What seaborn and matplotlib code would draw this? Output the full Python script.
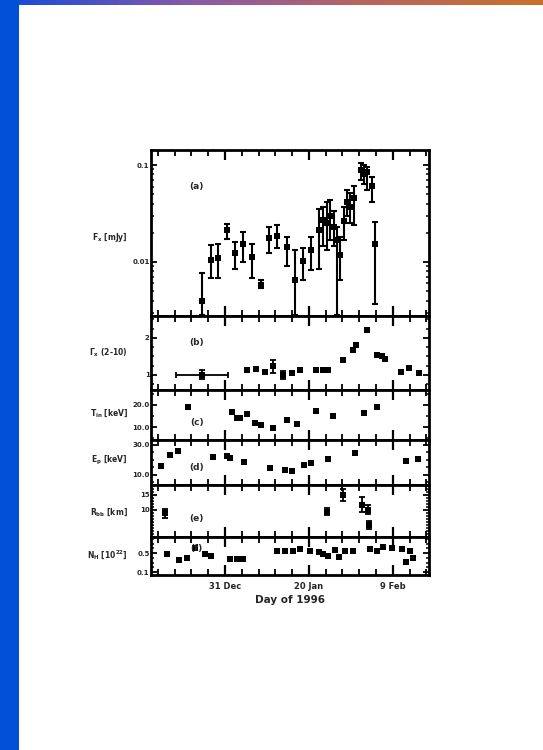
import numpy as np
import pandas as pd
import matplotlib
matplotlib.use("Agg")
import matplotlib.pyplot as plt
import seaborn as sns
from matplotlib.ticker import FixedLocator, MultipleLocator, NullFormatter

# ---------------- data (day 0 = 31 Dec) ----------------
flux_day = [-5.4, -3.4, -1.6, 0.4, 2.4, 4.4, 6.5, 8.6, 10.5, 12.5, 14.7, 16.7, 18.6,
            20.6, 22.5, 23.3, 24.3, 25.1, 25.9, 26.7, 27.4, 28.3, 29.1, 29.9, 30.8,
            32.3, 33.1, 33.9, 35.1, 35.7]
flux_log = [-2.40, -1.98, -1.96, -1.67, -1.91, -1.81, -1.95, -2.24, -1.75, -1.73, -1.85,
            -2.19, -1.99, -1.88, -1.67, -1.57, -1.60, -1.53, -1.64, -1.77, -1.93, -1.58,
            -1.38, -1.43, -1.34, -1.05, -1.09, -1.07, -1.22, -1.81]
flux_log_hi = [-2.11, -1.82, -1.81, -1.61, -1.79, -1.69, -1.81, -2.19, -1.64, -1.62, -1.74,
               -1.88, -1.86, -1.74, -1.45, -1.43, -1.38, -1.36, -1.47, -1.64, -1.74, -1.43,
               -1.26, -1.29, -1.22, -0.98, -1.00, -1.02, -1.12, -1.59]
flux_log_lo = [-2.55, -2.17, -2.17, -1.76, -2.07, -2.00, -2.17, -2.27, -1.91, -1.86, -2.04,
               -2.55, -2.19, -2.08, -2.07, -1.84, -1.88, -1.77, -1.84, -2.55, -2.19, -1.77,
               -1.53, -1.60, -1.62, -1.15, -1.20, -1.26, -1.38, -2.43]

gamma_day = [-5.5, 5.2, 7.5, 9.5, 11.5, 13.9, 15.9, 17.9, 21.8, 23.4, 24.6, 28.1, 30.5,
             31.3, 33.9, 36.1, 37.3, 38.1, 41.9, 43.9, 46.3]
gamma_val = [1.00, 1.14, 1.15, 1.09, 1.23, 1.00, 1.05, 1.14, 1.14, 1.14, 1.14, 1.41, 1.68,
             1.81, 2.22, 1.54, 1.50, 1.43, 1.09, 1.18, 1.05]
gamma_err = [0.12, 0.04, 0.04, 0.04, 0.18, 0.10, 0.05, 0.04, 0.04, 0.03, 0.03, 0.05, 0.05,
             0.05, 0.04, 0.05, 0.05, 0.05, 0.05, 0.05, 0.05]
gamma_xerr = [6.2, 0, 0, 0, 0, 0, 0, 0, 0, 0, 0, 0, 0, 0, 0, 0, 0, 0, 0, 0, 0]

temp_day = [-8.7, 1.6, 2.8, 3.6, 5.2, 7.1, 8.7, 11.4, 14.8, 17.2, 21.7, 25.8, 33.2, 36.1]
temp_val = [19.2, 17.0, 14.0, 14.0, 15.9, 11.7, 10.9, 9.4, 13.2, 11.4, 17.4, 15.0, 16.2, 19.0]

ep_day = [-15.1, -13.1, -11.1, -2.8, 0.4, 1.2, 4.5, 10.7, 14.3, 15.9, 18.8, 20.6, 24.6,
          31.0, 43.1, 46.0]
ep_val = [16.0, 23.3, 26.2, 21.8, 22.7, 21.1, 18.9, 14.4, 13.3, 12.9, 16.7, 18.2, 20.4,
          24.9, 19.6, 20.4]

rad_day = [-14.3, 24.2, 28.2, 32.6, 34.0, 34.2]
rad_val = [8.9, 9.4, 15.0, 11.7, 10.0, 5.0]
rad_err = [1.5, 1.2, 2.0, 2.5, 1.5, 1.2]

nh_day = [-13.7, -10.9, -9.0, -7.1, -4.8, -3.2, 1.2, 2.8, 4.4, 12.3, 14.3, 16.2, 17.8,
          20.2, 22.4, 23.3, 24.6, 26.2, 27.2, 28.6, 30.5, 34.5, 36.1, 37.7, 39.7, 42.1,
          44.0, 43.2, 44.8]
nh_val = [0.49, 0.35, 0.39, 0.60, 0.49, 0.45, 0.37, 0.37, 0.37, 0.55, 0.55, 0.55, 0.58,
          0.55, 0.52, 0.48, 0.44, 0.56, 0.41, 0.55, 0.55, 0.58, 0.55, 0.62, 0.60, 0.58,
          0.55, 0.32, 0.39]

x_tick_days = [0, 20, 40]
x_tick_labels = ["31 Dec", "20 Jan", "9 Feb"]
panel_tags = ["(a)", "(b)", "(c)", "(d)", "(e)", "(f)"]
y_titles = [r"$F_x$ [mJy]", r"$\Gamma_x$ (2-10)", r"$T_{in}$ [keV]",
            r"$E_p$ [keV]", r"$R_{bb}$ [km]", r"$N_H$ [$10^{22}$]"]

# ---------------- figure ----------------
sns.set_style("ticks")
plt.rcParams["font.family"] = ["DejaVu Sans"]
plt.rcParams["font.weight"] = "bold"
plt.rcParams["mathtext.default"] = "bf"

W, H = 543, 750
fig = plt.figure(figsize=(W / 100, H / 100), dpi=100)
fig.patch.set_facecolor("white")

# slide decoration: left bar and gradient strip
bar_ax = fig.add_axes([0, 0, 19 / W, 1])
bar_ax.set_facecolor("#0350d8")
bar_ax.set_xticks([]); bar_ax.set_yticks([])
for s in bar_ax.spines.values():
    s.set_visible(False)
grad_ax = fig.add_axes([19 / W, 1 - 5 / H, 1 - 19 / W, 5 / H])
cmap = matplotlib.colors.LinearSegmentedColormap.from_list(
    "strip", ["#1a4cd6", "#8a5aa8", "#b8665e", "#c8702c"])
grad_ax.imshow(np.linspace(0, 1, 256)[None, :], aspect="auto", cmap=cmap)
grad_ax.axis("off")

# panel boxes in pixel rows (top, bottom)
rows = [(150, 316), (316, 390), (390, 440), (440, 485), (485, 537), (537, 575)]
left_px, right_px = 151, 429
label_rows = [237, 353, 413, 460, 512, 555]
tag_rows = [187, 342, 423, 468, 518, 548]

axes = []
for (t, b) in rows:
    ax = fig.add_axes([left_px / W, 1 - b / H, (right_px - left_px) / W, (b - t) / H])
    axes.append(ax)

xmin, xmax = -17.6, 48.6
EW = 1.5      # error bar width
MS = 20       # marker area

def style(ax, i):
    ax.set_xlim(xmin, xmax)
    ax.xaxis.set_major_locator(FixedLocator(x_tick_days))
    ax.xaxis.set_minor_locator(MultipleLocator(4))
    ax.tick_params(axis="both", which="both", direction="in", top=True, right=True,
                   color="black", labelsize=5)
    ax.tick_params(axis="x", which="major", length=7, width=1.6)
    ax.tick_params(axis="x", which="minor", length=4, width=1.3)
    ax.tick_params(axis="y", which="major", length=4, width=1.3, pad=1)
    ax.tick_params(axis="y", which="minor", length=2, width=1.1)
    for s in ax.spines.values():
        s.set_linewidth(2.0)
        s.set_color("black")
    if i < 5:
        ax.set_xticklabels([])
    ax.set_xlabel("")
    t, b = rows[i]
    ax.set_ylabel(y_titles[i], rotation=0, ha="right", va="center",
                  fontsize=5.5, fontweight="bold")
    ax.yaxis.set_label_coords((128 - left_px) / (right_px - left_px),
                              (b - label_rows[i]) / (b - t))
    ax.text(0.165, (b - tag_rows[i]) / (b - t), panel_tags[i], transform=ax.transAxes,
            fontsize=6.5, fontweight="bold", ha="center", va="center")

# (a) flux, log scale
ax = axes[0]
f = 10 ** np.array(flux_log)
fdf = pd.DataFrame({"day": flux_day, "flux": f})
yerr = [f - 10 ** np.array(flux_log_lo), 10 ** np.array(flux_log_hi) - f]
ax.errorbar(flux_day, f, yerr=yerr, fmt="none", ecolor="black", elinewidth=EW,
            capsize=2.2, capthick=EW)
sns.scatterplot(data=fdf, x="day", y="flux", ax=ax, marker="s", s=MS, color="black",
                edgecolor="black", linewidth=0)
ax.set_yscale("log")
ax.set_ylim(0.00277, 0.143)
ax.set_yticks([0.01, 0.1])
ax.set_yticklabels(["0.01", "0.1"])
ax.yaxis.set_minor_formatter(NullFormatter())
style(ax, 0)

# (b) photon index
ax = axes[1]
gdf = pd.DataFrame({"day": gamma_day, "val": gamma_val})
ax.errorbar(gamma_day, gamma_val, yerr=gamma_err, xerr=gamma_xerr, fmt="none",
            ecolor="black", elinewidth=1.3, capsize=2, capthick=1.3)
sns.scatterplot(data=gdf, x="day", y="val", ax=ax, marker="s", s=MS, color="black",
                linewidth=0)
ax.set_ylim(0.59, 2.59)
ax.set_yticks([1.0, 2.0])
ax.yaxis.set_minor_locator(MultipleLocator(0.25))
style(ax, 1)

# (c) temperature
ax = axes[2]
tdf = pd.DataFrame({"day": temp_day, "val": temp_val})
sns.scatterplot(data=tdf, x="day", y="val", ax=ax, marker="s", s=MS, color="black",
                linewidth=0)
ax.set_ylim(4.1, 26.8)
ax.set_yticks([10, 20])
ax.set_yticklabels(["10.0", "20.0"])
ax.yaxis.set_minor_locator(MultipleLocator(5))
style(ax, 2)

# (d) peak energy
ax = axes[3]
edf = pd.DataFrame({"day": ep_day, "val": ep_val})
sns.scatterplot(data=edf, x="day", y="val", ax=ax, marker="s", s=MS, color="black",
                linewidth=0)
ax.set_ylim(3.3, 33.3)
ax.set_yticks([10, 30])
ax.set_yticklabels(["10.0", "30.0"])
ax.yaxis.set_minor_locator(MultipleLocator(5))
style(ax, 3)

# (e) radius
ax = axes[4]
rdf = pd.DataFrame({"day": rad_day, "val": rad_val})
ax.errorbar(rad_day, rad_val, yerr=rad_err, fmt="none", ecolor="black",
            elinewidth=1.3, capsize=2, capthick=1.3)
sns.scatterplot(data=rdf, x="day", y="val", ax=ax, marker="s", s=MS, color="black",
                linewidth=0)
ax.set_ylim(1.0, 18.3)
ax.set_yticks([10, 15])
ax.yaxis.set_minor_locator(MultipleLocator(1))
style(ax, 4)

# (f) column density
ax = axes[5]
ndf = pd.DataFrame({"day": nh_day, "val": nh_val})
sns.scatterplot(data=ndf, x="day", y="val", ax=ax, marker="s", s=14, color="black",
                linewidth=0)
ax.set_ylim(0.04, 0.84)
ax.set_yticks([0.1, 0.5])
ax.yaxis.set_minor_locator(MultipleLocator(0.1))
style(ax, 5)
ax.set_xticklabels(x_tick_labels, fontsize=6, fontweight="bold")
ax.tick_params(axis="x", which="major", pad=5)
ax.set_xlabel("Day of 1996", fontsize=7.5, fontweight="bold", labelpad=3)

fig.savefig("out.png", dpi=100, facecolor="white")
